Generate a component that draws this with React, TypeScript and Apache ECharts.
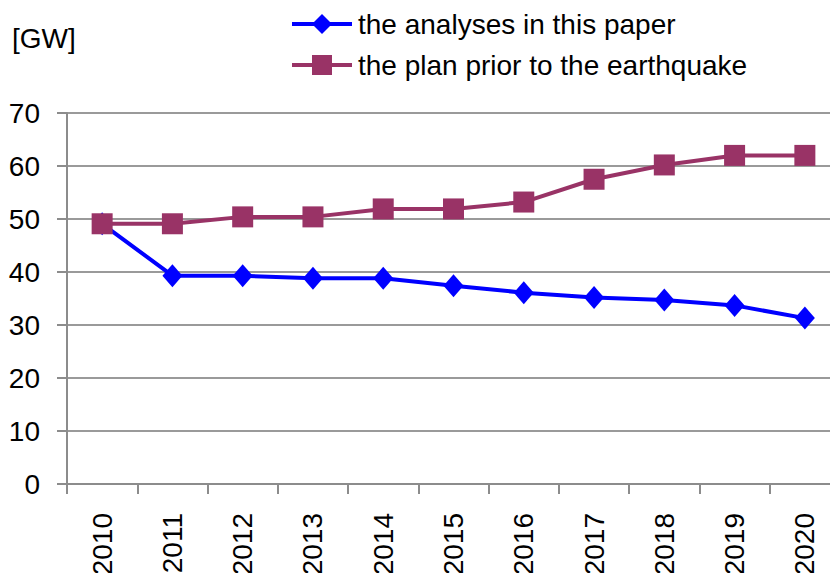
import React, { useEffect, useRef } from "react";
import * as echarts from "echarts";

const years = ["2010", "2011", "2012", "2013", "2014", "2015", "2016", "2017", "2018", "2019", "2020"];
const analysesValues = [49.1, 39.3, 39.3, 38.8, 38.8, 37.4, 36.1, 35.2, 34.7, 33.7, 31.3];
const planValues = [49.1, 49.1, 50.4, 50.4, 51.9, 51.9, 53.2, 57.5, 60.2, 62.0, 62.0];
const seriesNames = ["the analyses in this paper", "the plan prior to the earthquake"];
const unitLabel = "[GW]";

const FONT = "'Liberation Sans', Arial, Helvetica, sans-serif";

export default function App() {
  const ref = useRef<HTMLDivElement>(null);
  useEffect(() => {
    if (!ref.current) return;
    const chart = echarts.init(ref.current, undefined, { renderer: "svg" });
    chart.setOption({
      animation: false,
      backgroundColor: "#ffffff",
      textStyle: { fontFamily: FONT },
      grid: { left: 67, top: 113, width: 773, height: 371, containLabel: false, outerBoundsMode: "none" },
      legend: {
        orient: "vertical",
        left: 290,
        top: 10,
        padding: 0,
        itemWidth: 60,
        itemHeight: 25,
        itemGap: 13,
        lineStyle: { width: 4 },
        textStyle: { fontFamily: FONT, fontSize: 28, color: "#000", lineHeight: 28, padding: [0, 0, 0, 1] },
        data: seriesNames,
      },
      graphic: [
        {
          type: "text",
          left: 12,
          top: 24,
          style: { text: unitLabel, font: `28px ${FONT}`, fill: "#000" },
        },
      ],
      xAxis: {
        type: "category",
        data: years,
        boundaryGap: true,
        axisLine: { lineStyle: { color: "#8c8c8c", width: 2 } },
        axisTick: { show: true, length: 10, lineStyle: { color: "#8c8c8c", width: 2 } },
        axisLabel: { rotate: 90, margin: 29, fontSize: 28, color: "#000", fontFamily: FONT, interval: 0 },
        splitLine: { show: false },
      },
      yAxis: {
        type: "value",
        min: 0,
        max: 70,
        interval: 10,
        axisLine: { show: true, lineStyle: { color: "#8c8c8c", width: 2 } },
        axisTick: { show: true, length: 10, lineStyle: { color: "#8c8c8c", width: 2 } },
        axisLabel: { margin: 27, fontSize: 28, color: "#000", fontFamily: FONT },
        splitLine: { show: true, lineStyle: { color: "#9a9a9a", width: 2 } },
      },
      series: [
        {
          name: seriesNames[0],
          type: "line",
          data: analysesValues,
          symbol: "diamond",
          symbolSize: [20, 23],
          showAllSymbol: true,
          color: "#0000ff",
          lineStyle: { color: "#0000ff", width: 4 },
          itemStyle: { color: "#0000ff" },
        },
        {
          name: seriesNames[1],
          type: "line",
          data: planValues,
          symbol: "rect",
          symbolSize: 21,
          showAllSymbol: true,
          color: "#993366",
          lineStyle: { color: "#993366", width: 4 },
          itemStyle: { color: "#993366" },
        },
      ],
    });
    return () => chart.dispose();
  }, []);
  return (
    <div
      ref={ref}
      style={{ position: "fixed", left: 0, top: 0, width: 830, height: 573, background: "#fff" }}
    />
  );
}
